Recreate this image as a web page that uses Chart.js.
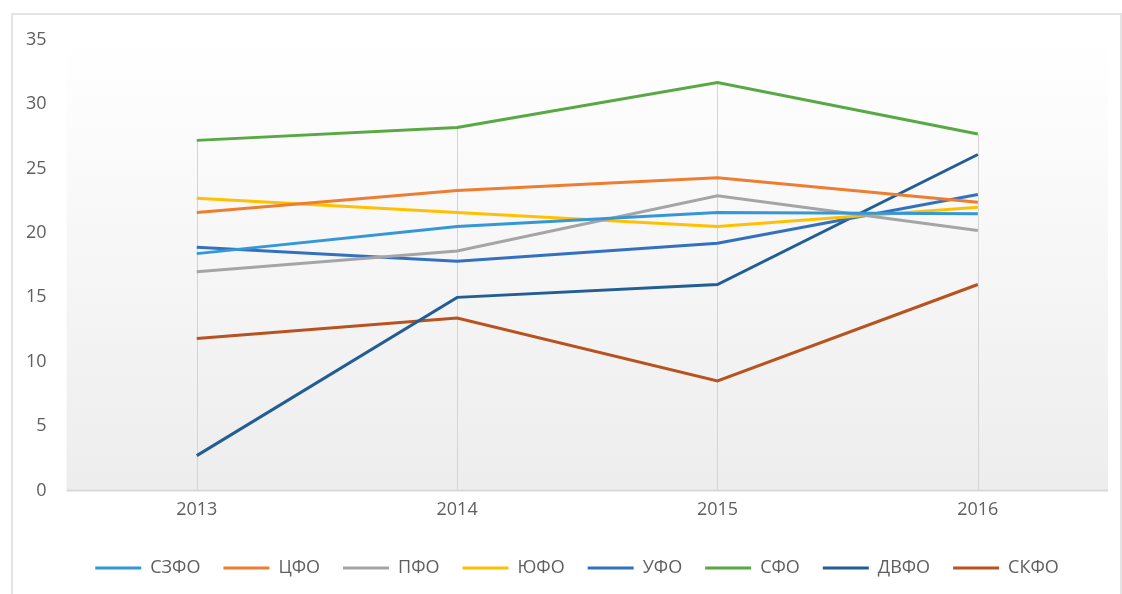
<!DOCTYPE html>
<html lang="ru">
<head>
<meta charset="utf-8">
<title>Федеральные округа 2013-2016</title>
<script src="https://cdn.jsdelivr.net/npm/chart.js@4/dist/chart.umd.min.js"></script>
<style>
  html, body { margin: 0; padding: 0; background: #fff; }
  .frame {
    position: absolute;
    left: 11px; top: 13px;
    width: 1107px; height: 620px;
    border: 2px solid #e4e4e4;
  }
  .wrap { position: absolute; left: 0; top: 0; width: 1122px; height: 594px; }
</style>
</head>
<body>
<div class="frame"></div>
<div class="wrap"><canvas id="chart"></canvas></div>
<script>
  // Годы
  const years = ['2013', '2014', '2015', '2016'];

  // Значения по округам
  const szfo = [18.4, 20.5, 21.6, 21.5];
  const cfo = [21.6, 23.3, 24.3, 22.4];
  const pfo = [17.0, 18.6, 22.9, 20.2];
  const yufo = [22.7, 21.6, 20.5, 22.0];
  const ufo = [18.9, 17.8, 19.2, 23.0];
  const sfo = [27.2, 28.2, 31.7, 27.7];
  const dvfo = [2.7, 15.0, 16.0, 26.1];
  const skfo = [11.8, 13.4, 8.5, 16.0];

  const yTicks = [0, 5, 10, 15, 20, 25, 30, 35];

  const series = [
    { label: 'СЗФО', data: szfo, color: '#3498d8' },
    { label: 'ЦФО', data: cfo, color: '#ed7d31' },
    { label: 'ПФО', data: pfo, color: '#a5a5a5' },
    { label: 'ЮФО', data: yufo, color: '#ffc000' },
    { label: 'УФО', data: ufo, color: '#3470c0' },
    { label: 'СФО', data: sfo, color: '#58a843' },
    { label: 'ДВФО', data: dvfo, color: '#225d94' },
    { label: 'СКФО', data: skfo, color: '#b8521f' }
  ];

  const textColor = '#5f5f5f';
  const font = { family: '"Open Sans", sans-serif', size: 18 };

  // Фон области построения (градиент) и линии проекции от максимума вниз
  const plotDecor = {
    id: 'plotDecor',
    afterLayout(chart) {
      // легенда в оригинале чуть смещена вправо
      chart.legend.left += 40;
    },
    beforeDatasetsDraw(chart) {
      const { ctx, chartArea, scales } = chart;
      const grad = ctx.createLinearGradient(0, chartArea.top, 0, chartArea.bottom);
      grad.addColorStop(0, '#ffffff');
      grad.addColorStop(1, '#ededed');
      ctx.save();
      ctx.fillStyle = grad;
      ctx.fillRect(chartArea.left, chartArea.top, chartArea.right - chartArea.left, chartArea.bottom - chartArea.top);

      ctx.strokeStyle = '#d4d4d4';
      ctx.lineWidth = 1;
      years.forEach((y, i) => {
        const max = Math.max(...series.map(s => s.data[i]));
        const x = Math.round(scales.x.getPixelForValue(i)) + 0.5;
        ctx.beginPath();
        ctx.moveTo(x, scales.y.getPixelForValue(max));
        ctx.lineTo(x, chartArea.bottom);
        ctx.stroke();
      });

      // ось X
      ctx.strokeStyle = '#d9d9d9';
      ctx.lineWidth = 2;
      ctx.beginPath();
      ctx.moveTo(chartArea.left, chartArea.bottom);
      ctx.lineTo(chartArea.right, chartArea.bottom);
      ctx.stroke();
      ctx.restore();
    }
  };

  const ctx = document.getElementById('chart').getContext('2d');
  new Chart(ctx, {
    type: 'line',
    data: {
      labels: years,
      datasets: series.map(s => ({
        label: s.label,
        data: s.data,
        borderColor: s.color,
        backgroundColor: s.color,
        borderWidth: 3,
        pointRadius: 0,
        pointStyle: 'line',
        tension: 0
      }))
    },
    options: {
      responsive: true,
      maintainAspectRatio: false,
      animation: false,
      layout: { padding: { top: 40, left: 6, right: 14, bottom: 7 } },
      scales: {
        x: {
          offset: true,
          grid: { display: false, drawTicks: false },
          border: { display: false },
          ticks: { color: textColor, font: font, padding: 9 },
          afterFit: scale => { scale.height += 6; }
        },
        y: {
          min: 0,
          max: 35,
          afterBuildTicks: axis => { axis.ticks = yTicks.map(v => ({ value: v })); },
          grid: { display: false, drawTicks: false },
          border: { display: false },
          ticks: { color: textColor, font: font, padding: 20 }
        }
      },
      plugins: {
        legend: {
          position: 'bottom',
          labels: {
            usePointStyle: true,
            pointStyleWidth: 46,
            color: textColor,
            font: font,
            padding: 23
          }
        },
        tooltip: { enabled: false }
      }
    },
    plugins: [plotDecor]
  });
</script>
</body>
</html>
